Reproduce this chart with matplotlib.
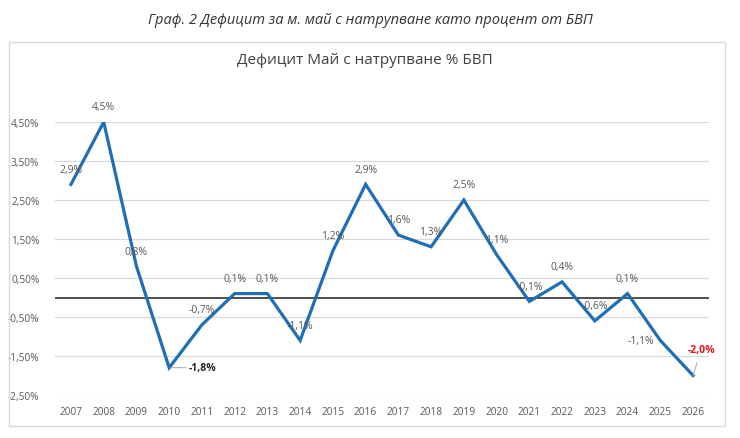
import matplotlib.pyplot as plt
from matplotlib.patches import Rectangle

plt.rcParams['font.family'] = ['Open Sans', 'DejaVu Sans']

years = list(range(2007, 2027))
deficit = [2.9, 4.5, 0.8, -1.8, -0.7, 0.1, 0.1, -1.1, 1.2, 2.9,
           1.6, 1.3, 2.5, 1.1, -0.1, 0.4, -0.6, 0.1, -1.1, -2.0]
yticks = [-2.5, -1.5, -0.5, 0.5, 1.5, 2.5, 3.5, 4.5]

grey = '#595959'
blue = '#1f6fb6'

fig = plt.figure(figsize=(7.4, 4.39), dpi=100)

# outer chart border
fig.patches.append(Rectangle((9 / 740, 1 - 427 / 439), 716 / 740, 384 / 439,
                             transform=fig.transFigure, fill=False,
                             edgecolor='#d9d9d9', linewidth=1))

fig.text(0.5, 1 - 20 / 439, 'Граф. 2 Дефицит за м. май с натрупване като процент от БВП',
         ha='center', va='center', fontsize=10.5, style='italic', color='#333333')
fig.text(0.493, 1 - 60 / 439, 'Дефицит Май с натрупване % БВП',
         ha='center', va='center', fontsize=11, color='#404040')

ax = fig.add_axes([54.6 / 740, 1 - 396 / 439, 654.8 / 740, 273 / 439])
x = list(range(len(years)))
ax.plot(x, deficit, color=blue, linewidth=2.3, zorder=3, solid_joinstyle='miter')
ax.axhline(0, color='#404040', linewidth=1.3, zorder=2)

ax.set_xlim(-0.5, len(years) - 0.5)
ax.set_ylim(-2.5, 4.5)
ax.set_yticks(yticks)
ax.set_yticklabels([f'{v:.2f}%'.replace('.', ',') for v in yticks])
ax.set_xticks(x)
ax.set_xticklabels([str(y) for y in years])
ax.grid(axis='y', color='#d9d9d9', linewidth=0.9)
ax.set_axisbelow(True)
for s in ax.spines.values():
    s.set_visible(False)
ax.tick_params(length=0, colors=grey, labelsize=7.3)
ax.tick_params(axis='y', pad=11)
ax.tick_params(axis='x', pad=8)

# data labels
for i, v in enumerate(deficit):
    txt = f'{v:.1f}%'.replace('.', ',')
    if years[i] == 2010:
        ax.annotate(txt, (i, v), xytext=(14, 0), textcoords='offset points',
                    ha='left', va='center', fontsize=7.5, fontweight='bold',
                    color='#262626', annotation_clip=False,
                    arrowprops=dict(arrowstyle='-', color='#a6a6a6', lw=0.7,
                                    shrinkA=0, shrinkB=1))
    elif years[i] == 2026:
        ax.annotate(txt, (i, v), xytext=(6, 19), textcoords='offset points',
                    ha='center', va='center', fontsize=7.5, fontweight='bold',
                    color='#e0161e', annotation_clip=False,
                    arrowprops=dict(arrowstyle='-', color='#a6a6a6', lw=0.7,
                                    shrinkA=4, shrinkB=0))
    elif years[i] == 2025:
        ax.annotate(txt, (i, v), xytext=(-14, 0), textcoords='offset points',
                    ha='center', va='center', fontsize=7.5, color=grey,
                    annotation_clip=False)
    else:
        ax.annotate(txt, (i, v), xytext=(0, 11), textcoords='offset points',
                    ha='center', va='center', fontsize=7.5, color=grey,
                    annotation_clip=False)

fig.savefig('out.png', dpi=100)
